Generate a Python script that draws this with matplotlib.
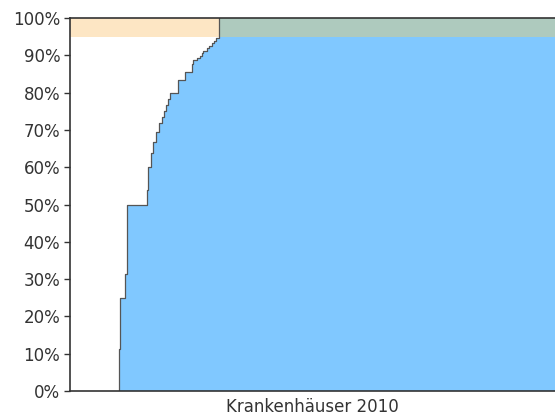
import matplotlib
matplotlib.use("Agg")
import matplotlib.pyplot as plt
from matplotlib.ticker import PercentFormatter

# Kumulierter Anteil (Stufenkurve), x in Prozent der Achsenbreite
x_werte = [10.0, 10.3, 11.4, 11.7, 15.8, 16.1, 16.8, 17.2, 17.7, 18.4,
           19.0, 19.4, 19.8, 20.2, 20.6, 22.3, 23.7, 25.1, 25.4, 26.1,
           26.8, 27.2, 27.5, 28.2, 28.7, 29.2, 29.7, 30.2, 30.8]
y_werte = [11.2, 25.0, 31.3, 50.0, 53.9, 60.0, 63.9, 66.7, 69.5, 71.8,
           73.5, 75.0, 76.7, 78.2, 80.0, 83.4, 85.6, 87.8, 88.7, 89.2,
           89.7, 90.5, 91.2, 91.9, 92.5, 93.2, 93.9, 94.6, 100.0]
schwelle = 95
y_ticks = [0, 10, 20, 30, 40, 50, 60, 70, 80, 90, 100]
x_titel = "Krankenhäuser 2010"

blau = "#80c8ff"
orange = "#fde6c4"
gruen = "#aecabe"
dunkel = "#333333"

fig = plt.figure(figsize=(5.55, 4.2), dpi=100)
ax = fig.add_axes([70 / 555, 29 / 420, 485 / 555, 373 / 420])

# Stufenkurve aufbauen
xs = [x_werte[0]]
ys = [0]
for x, y in zip(x_werte, y_werte):
    xs += [x, x]
    ys += [ys[-1], y]
xs.append(100)
ys.append(ys[-1])

ax.fill_between(xs, ys, 0, color=blau, linewidth=0)
ax.plot(xs[:-1], ys[:-1], color="#555555", linewidth=0.9)

# Band oben (95-100 %)
grenze = x_werte[-1]
ax.fill_between([0, grenze], schwelle, 100, color=orange, linewidth=0)
ax.fill_between([grenze, 100], schwelle, 100, color=gruen, linewidth=0)

ax.set_xlim(0, 100)
ax.set_ylim(0, 100)
ax.set_yticks(y_ticks)
ax.yaxis.set_major_formatter(PercentFormatter(decimals=0))
ax.set_xticks([])
ax.tick_params(axis="y", length=4, width=1, color=dunkel, labelsize=12,
               labelcolor=dunkel, pad=3)
for s in ["left", "bottom", "top"]:
    ax.spines[s].set_color(dunkel)
    ax.spines[s].set_linewidth(1.2)
ax.spines["right"].set_visible(False)
ax.set_xlabel(x_titel, fontsize=12, color=dunkel, labelpad=5)

fig.savefig("out.png", dpi=100)
